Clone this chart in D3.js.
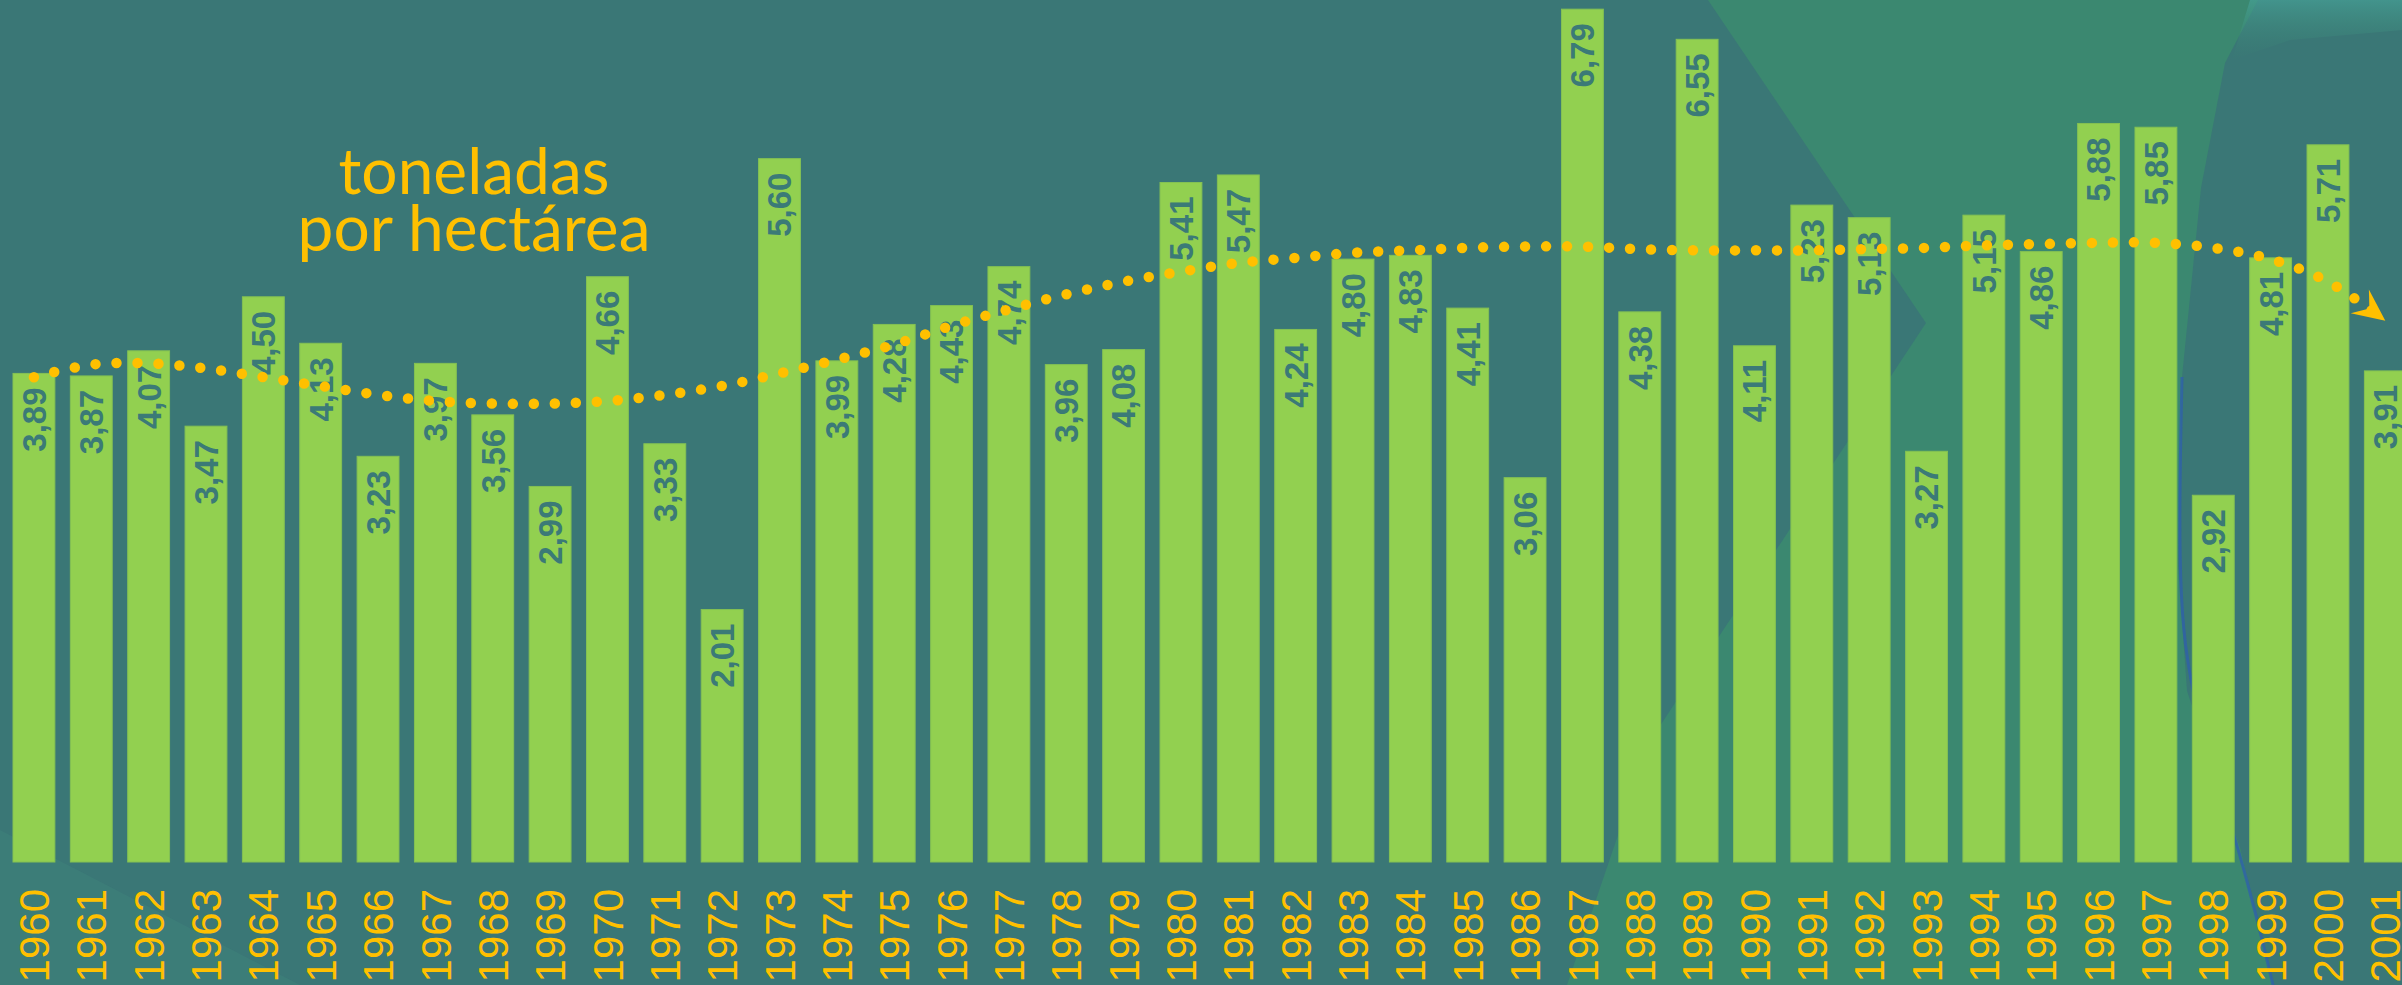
<!DOCTYPE html>
<html>
<head>
<meta charset="utf-8">
<script src="https://cdn.jsdelivr.net/npm/d3@7"></script>
<style>
  html, body { margin: 0; padding: 0; background: #3a7776; overflow: hidden; }
</style>
</head>
<body>
<svg width="2402" height="985"></svg>
<script>
const years = [
  "1960", "1961", "1962", "1963", "1964", "1965", "1966", "1967", "1968", "1969",
  "1970", "1971", "1972", "1973", "1974", "1975", "1976", "1977", "1978", "1979",
  "1980", "1981", "1982", "1983", "1984", "1985", "1986", "1987", "1988", "1989",
  "1990", "1991", "1992", "1993", "1994", "1995", "1996", "1997", "1998", "1999",
  "2000", "2001"
];
const yields = [
  3.89, 3.87, 4.07, 3.47, 4.50, 4.13, 3.23, 3.97, 3.56, 2.99,
  4.66, 3.33, 2.01, 5.60, 3.99, 4.28, 4.43, 4.74, 3.96, 4.08,
  5.41, 5.47, 4.24, 4.80, 4.83, 4.41, 3.06, 6.79, 4.38, 6.55,
  4.11, 5.23, 5.13, 3.27, 5.15, 4.86, 5.88, 5.85, 2.92, 4.81,
  5.71, 3.91
];
// trend line
const trend = [
  3.86, 3.96, 3.97, 3.93, 3.86, 3.79, 3.72, 3.67, 3.65, 3.65,
  3.67, 3.72, 3.79, 3.89, 4.00, 4.12, 4.27, 4.40, 4.52, 4.62,
  4.70, 4.77, 4.81, 4.85, 4.87, 4.89, 4.90, 4.90, 4.88, 4.87,
  4.87, 4.87, 4.88, 4.89, 4.91, 4.92, 4.93, 4.93, 4.89, 4.80,
  4.62, 4.31
];
const titleLines = ["toneladas", "por hectárea"];

let svg = d3.select("svg");
let width = +svg.attr("width");
let height = +svg.attr("height");

let comma = d3.formatLocale({ decimal: ",", thousands: ".", grouping: [3], currency: ["", ""] }).format(".2f");

// background decoration
let defs = svg.append("defs");
let glow = defs.append("linearGradient").attr("id", "glow")
  .attr("x1", 0).attr("y1", 0).attr("x2", 0).attr("y2", 1);
glow.append("stop").attr("offset", 0).attr("stop-color", "#46a096");
glow.append("stop").attr("offset", 1).attr("stop-color", "#3b8870").attr("stop-opacity", 0);

let bg = svg.append("g").attr("class", "background");
bg.append("rect").attr("width", width).attr("height", height).attr("fill", "#3a7776");

let lighter = [[1708, 0], [2258, 0], [2225, 63], [2201, 188], [2182, 377], [2178, 565],
  [2187, 691], [2240, 848], [2273, 985], [1567, 985], [1650, 741], [1926, 323]];
bg.append("path")
  .attr("d", d3.line()(lighter) + "Z")
  .attr("fill", "#3b8870");

bg.append("path")
  .attr("d", d3.line()([[2250, 0], [2402, 0], [2402, 30], [2290, 40], [2232, 60]]) + "Z")
  .attr("fill", "url(#glow)")
  .attr("opacity", 0.7);

bg.append("path")
  .attr("d", d3.line().curve(d3.curveBasis)([[2182, 377], [2178, 565], [2187, 691], [2240, 848], [2273, 985]]))
  .attr("fill", "none")
  .attr("stroke", "#2f5fae")
  .attr("stroke-width", 3)
  .attr("opacity", 0.75);

bg.append("path")
  .attr("d", d3.line()([[0, 830], [300, 985], [0, 985]]) + "Z")
  .attr("fill", "#3d7e79")
  .attr("opacity", 0.8);

// scales
let x = d3.scaleBand()
  .domain(years)
  .range([5.26, 2414])
  .paddingInner(0.27)
  .paddingOuter(0.135);

let y = d3.scaleLinear().domain([0, 7]).range([862, -17.2]);

// bars
svg.append("g")
  .attr("class", "bars")
  .selectAll("rect")
  .data(years)
  .enter()
  .append("rect")
  .attr("x", (d) => x(d))
  .attr("y", (d, i) => y(yields[i]))
  .attr("width", x.bandwidth())
  .attr("height", (d, i) => y(0) - y(yields[i]))
  .attr("fill", "#92d050")
  .attr("stroke", "#84c153")
  .attr("stroke-width", 1);

// value labels
svg.append("g")
  .attr("class", "values")
  .selectAll("text")
  .data(years)
  .enter()
  .append("text")
  .attr("transform", (d, i) => `translate(${x(d) + x.bandwidth() / 2},${y(yields[i]) + 14}) rotate(-90)`)
  .attr("dy", "0.36em")
  .attr("text-anchor", "end")
  .style("font-family", "'Liberation Sans', Arial, sans-serif")
  .style("font-weight", "bold")
  .style("font-size", "33px")
  .attr("fill", "#3b7a77")
  .text((d, i) => comma(yields[i]));

// year axis labels
svg.append("g")
  .attr("class", "years")
  .selectAll("text")
  .data(years)
  .enter()
  .append("text")
  .attr("transform", (d) => `translate(${x(d) + x.bandwidth() / 2},889) rotate(-90)`)
  .attr("dy", "0.36em")
  .attr("text-anchor", "end")
  .style("font-family", "'Liberation Sans', Arial, sans-serif")
  .style("font-size", "42px")
  .attr("fill", "#ffc000")
  .text((d) => d);

// trend line (dotted with arrow)
defs.append("marker")
  .attr("id", "arrow")
  .attr("markerUnits", "userSpaceOnUse")
  .attr("viewBox", "-34 -17 36 34")
  .attr("refX", 0)
  .attr("refY", 0)
  .attr("markerWidth", 36)
  .attr("markerHeight", 34)
  .attr("orient", "auto")
  .append("path")
  .attr("d", "M0,0 L-32,-15 L-20,0 L-32,15 Z")
  .attr("fill", "#ffc000");

let trendLine = d3.line()
  .x((d, i) => x(years[i]) + x.bandwidth() / 2)
  .y((d) => y(d))
  .curve(d3.curveCatmullRom);

svg.append("path")
  .datum(trend)
  .attr("d", trendLine)
  .attr("fill", "none")
  .attr("stroke", "#ffc000")
  .attr("stroke-width", 10.5)
  .attr("stroke-linecap", "round")
  .attr("stroke-dasharray", "0 21")
  .attr("marker-end", "url(#arrow)");

// title
svg.append("g")
  .attr("class", "title")
  .selectAll("text")
  .data(titleLines)
  .enter()
  .append("text")
  .attr("x", 474)
  .attr("y", (d, i) => 194 + i * 57)
  .attr("text-anchor", "middle")
  .style("font-family", "Lato, 'Open Sans', sans-serif")
  .style("font-size", "64px")
  .attr("fill", "#ffc000")
  .text((d) => d);
</script>
</body>
</html>
